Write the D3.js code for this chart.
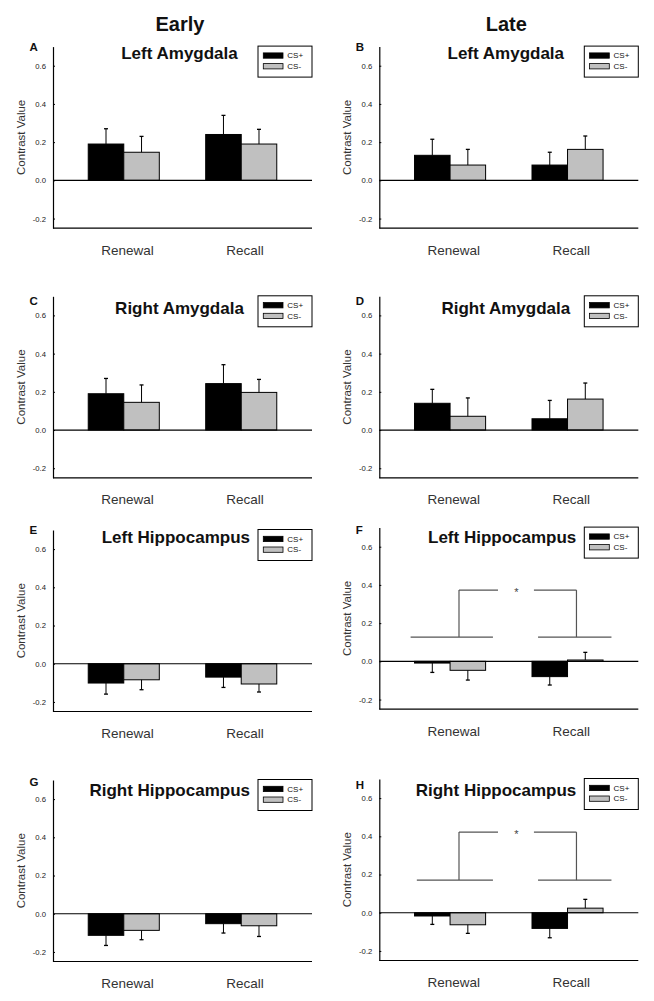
<!DOCTYPE html>
<html><head><meta charset="utf-8">
<script src="https://cdn.jsdelivr.net/npm/d3@7"></script>
<style>
html,body{margin:0;padding:0;background:#fff;}
svg{display:block;font-family:Arial,"Liberation Sans",sans-serif;}
</style></head>
<body><svg id="chart" width="654" height="1001"></svg>
<script>
// ---------- data ----------
const columnHeaders = ["Early", "Late"];
const groups = ["Renewal", "Recall"];
const series = ["CS+", "CS-"];
const panelLetters = ["A", "B", "C", "D", "E", "F", "G", "H"];
const panelTitles = ["Left Amygdala", "Left Amygdala", "Right Amygdala", "Right Amygdala",
  "Left Hippocampus", "Left Hippocampus", "Right Hippocampus", "Right Hippocampus"];
const yTicks = [-0.2, 0.0, 0.2, 0.4, 0.6];
const yDomain = [-0.25, 0.7];
// means per panel [Renewal, Recall]
const csPlusMean = [[0.19, 0.24], [0.131, 0.08], [0.19, 0.243], [0.14, 0.059],
  [-0.101, -0.07], [-0.009, -0.08], [-0.113, -0.052], [-0.017, -0.082]];
const csMinusMean = [[0.147, 0.19], [0.08, 0.162], [0.145, 0.197], [0.072, 0.162],
  [-0.084, -0.106], [-0.047, 0.007], [-0.087, -0.063], [-0.063, 0.024]];
const csPlusErr = [[0.08, 0.10], [0.084, 0.067], [0.08, 0.099], [0.073, 0.096],
  [0.058, 0.054], [0.049, 0.044], [0.053, 0.049], [0.044, 0.049]];
const csMinusErr = [[0.083, 0.077], [0.082, 0.07], [0.091, 0.068], [0.096, 0.084],
  [0.052, 0.042], [0.051, 0.04], [0.049, 0.056], [0.045, 0.046]];
// significance brackets (panels F and H); x in group-index units (0 = Renewal, 1 = Recall)
const sigPanels = ["F", "H"];
const sigLow = [0.127, 0.171];
const sigHigh = [0.373, 0.422];
const sigLeftStart = [-0.336, -0.283];
const sigLeftEnd = [0.365, 0.365];
const sigRightStart = [0.749, 0.749];
const sigRightEnd = [1.374, 1.374];
const sigLeftDrop = [0.076, 0.076];
const sigRightDrop = [1.076, 1.076];
const sigGapStart = [0.408, 0.408];
const sigGapEnd = [0.714, 0.714];
const sigStarX = [0.564, 0.564];
const sigLabel = ["*", "*"];

// ---------- layout ----------
const colX = [53, 379.3];
const plotTops = [[46.6, 296.3, 530, 780], [46.6, 296.3, 527.6, 779]];
const titleDy = [12.7, 12.7, 17.7, 17.7, 12.7, 15.1, 15.7, 17];
const letterDy = [4, 4.4, 8.7, 8.7, 4.3, 6.7, 6, 10.3];
const plotW = 259, plotH = 181.5;
const colors = {"CS+": "#000000", "CS-": "#c0c0c0"};

const svg = d3.select("#chart");

columnHeaders.forEach((h, i) => {
  svg.append("text").attr("x", colX[i] + 127).attr("y", 30.7)
    .attr("text-anchor", "middle").attr("font-size", 20).attr("font-weight", "bold")
    .attr("fill", "#111").text(h);
});

const y = d3.scaleLinear().domain(yDomain).range([plotH, 0]);
const x0 = d3.scaleBand().domain(groups).range([0, plotW]).paddingInner(0.395).paddingOuter(0.30);
const x1 = d3.scaleBand().domain(series).range([0, x0.bandwidth()]).padding(0);
const xi = d3.scaleLinear().domain([0, 1])
  .range([x0(groups[0]) + x0.bandwidth() / 2, x0(groups[1]) + x0.bandwidth() / 2]);

panelLetters.forEach((L, p) => {
  const col = p % 2, row = Math.floor(p / 2);
  const g = svg.append("g").attr("transform", `translate(${colX[col]},${plotTops[col][row]})`);

  // y axis
  const ax = g.append("g").call(d3.axisLeft(y).tickValues(yTicks).tickSizeInner(-2).tickSizeOuter(0)
    .tickPadding(7).tickFormat(d => d.toFixed(1)));
  ax.select(".domain").attr("stroke", "#000").attr("stroke-width", 1.2);
  ax.selectAll(".tick line").attr("stroke", "#000");
  ax.selectAll(".tick text").attr("font-size", 7.7).attr("fill", "#222")
    .attr("font-family", "Arial, 'Liberation Sans', sans-serif");

  // bottom axis line
  g.append("line").attr("x1", 0).attr("x2", plotW).attr("y1", plotH).attr("y2", plotH)
    .attr("stroke", "#000").attr("stroke-width", 1.2);

  // bars
  const rows = [];
  groups.forEach((gr, gi) => {
    rows.push({group: gr, s: "CS+", v: csPlusMean[p][gi], e: csPlusErr[p][gi]});
    rows.push({group: gr, s: "CS-", v: csMinusMean[p][gi], e: csMinusErr[p][gi]});
  });
  g.selectAll("rect.bar").data(rows).join("rect").attr("class", "bar")
    .attr("x", d => x0(d.group) + x1(d.s))
    .attr("width", x1.bandwidth())
    .attr("y", d => y(Math.max(0, d.v)))
    .attr("height", d => Math.abs(y(d.v) - y(0)))
    .attr("fill", d => colors[d.s]).attr("stroke", "#000").attr("stroke-width", 1);

  // error bars
  rows.forEach(d => {
    const cx = x0(d.group) + x1(d.s) + x1.bandwidth() / 2;
    const tip = d.v >= 0 ? d.v + d.e : d.v - d.e;
    g.append("line").attr("x1", cx).attr("x2", cx).attr("y1", y(d.v)).attr("y2", y(tip))
      .attr("stroke", "#000").attr("stroke-width", 1);
    g.append("line").attr("x1", cx - 2).attr("x2", cx + 2).attr("y1", y(tip)).attr("y2", y(tip))
      .attr("stroke", "#000").attr("stroke-width", 1.3);
  });

  // zero line
  g.append("line").attr("x1", 0).attr("x2", plotW).attr("y1", y(0)).attr("y2", y(0))
    .attr("stroke", "#000").attr("stroke-width", 1.2);

  // x labels
  groups.forEach(gr => {
    g.append("text").attr("x", x0(gr) + x0.bandwidth() / 2 + 3.7).attr("y", plotH + 26.5)
      .attr("text-anchor", "middle").attr("font-size", 13.5).attr("fill", "#333").text(gr);
  });

  // y title
  g.append("text").attr("transform", `translate(-32,${plotH / 2}) rotate(-90)`)
    .attr("text-anchor", "middle").attr("dy", "0.35em").attr("font-size", 11.5)
    .attr("fill", "#333").text("Contrast Value");

  // panel letter
  g.append("text").attr("x", -23.5).attr("y", letterDy[p]).attr("font-size", 11.5)
    .attr("font-weight", "bold").attr("fill", "#111").text(L);

  // legend
  const lw = 54, lh = 31;
  const lg = g.append("g").attr("transform", `translate(${plotW - lw},-0.5)`);
  lg.append("rect").attr("width", lw).attr("height", lh).attr("fill", "#fff")
    .attr("stroke", "#000").attr("stroke-width", 1);
  series.forEach((s, i) => {
    lg.append("rect").attr("x", 5.3).attr("y", 6.8 + i * 10.7).attr("width", 19.7).attr("height", 5.3)
      .attr("fill", colors[s]).attr("stroke", "#000").attr("stroke-width", 0.8);
    lg.append("text").attr("x", 29.3).attr("y", 12 + i * 10.8).attr("font-size", 8)
      .attr("fill", "#111").text(s);
  });
  const legendLeft = plotW - lw;

  // title
  const t = g.append("text").attr("y", titleDy[p]).attr("text-anchor", "middle")
    .attr("font-size", 17).attr("font-weight", "bold").attr("fill", "#111").text(panelTitles[p]);
  const tw = t.node().getComputedTextLength();
  let tc = 126.5;
  if (tc + tw / 2 > legendLeft - 8) tc = legendLeft - 8 - tw / 2;
  t.attr("x", tc);

  // significance bracket
  const si = sigPanels.indexOf(L);
  if (si >= 0) {
    const st = {stroke: "#555", "stroke-width": 1.2};
    const seg = (xa, ya, xb, yb) => {
      const l = g.append("line").attr("x1", xa).attr("y1", ya).attr("x2", xb).attr("y2", yb)
        .attr("fill", "none");
      Object.entries(st).forEach(([k, v]) => l.attr(k, v));
    };
    const yl = y(sigLow[si]), yh = y(sigHigh[si]);
    seg(xi(sigLeftStart[si]), yl, xi(sigLeftEnd[si]), yl);
    seg(xi(sigRightStart[si]), yl, xi(sigRightEnd[si]), yl);
    seg(xi(sigLeftDrop[si]), yl, xi(sigLeftDrop[si]), yh);
    seg(xi(sigRightDrop[si]), yl, xi(sigRightDrop[si]), yh);
    seg(xi(sigLeftDrop[si]), yh, xi(sigGapStart[si]), yh);
    seg(xi(sigGapEnd[si]), yh, xi(sigRightDrop[si]), yh);
    g.append("text").attr("x", xi(sigStarX[si])).attr("y", yh + 6).attr("text-anchor", "middle")
      .attr("font-size", 11).attr("fill", "#444").text(sigLabel[si]);
  }
});
</script>
</body></html>
